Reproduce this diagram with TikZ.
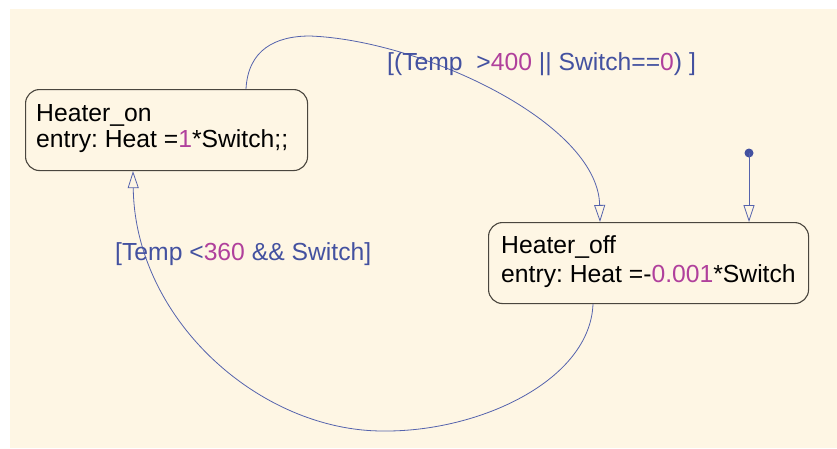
\documentclass[tikz,border=0pt]{standalone}
\usepackage{fontspec}
\setmainfont{Liberation Sans}
\usetikzlibrary{arrows.meta,calc}
\frenchspacing
\definecolor{paper}{HTML}{FEF6E4}
\definecolor{edgeblue}{HTML}{5563AD}
\definecolor{guardblue}{HTML}{4351A0}
\definecolor{numpink}{HTML}{B0409C}
\definecolor{boxline}{HTML}{4A463E}
\tikzset{
  statebox/.style={draw=boxline, line width=1.1pt, rounded corners=14pt,
    anchor=north west, inner sep=0pt},
  txt/.style={anchor=base west, inner sep=0pt, font=\fontsize{24.7pt}{27pt}\selectfont},
  guard/.style={txt, text=guardblue},
  trans/.style={draw=edgeblue, line width=0.8pt,
    -{Triangle[open, length=17pt, width=11pt, line width=0.8pt]}},
}
\newcommand{\num}[1]{\textcolor{numpink}{#1}}
\begin{document}
\begin{tikzpicture}[x=1pt, y=-1pt]
  \useasboundingbox (0,0) rectangle (837,448);
  \fill[paper] (10,9) rectangle (837,448);

  % states
  \node[statebox, minimum width=282pt, minimum height=81pt] (on) at (25,89) {};
  \node[txt] (onname) at (36,121) {Heater\_on};
  \node[txt] (onentry) at (36,147) {entry: Heat =\num{1}*Switch;;};

  \node[statebox, minimum width=320pt, minimum height=81pt] (off) at (488,222) {};
  \node[txt] (offname) at (501,253) {Heater\_off};
  \node[txt] (offentry) at (501,282) {entry: Heat =-\num{0.001}*Switch};

  % default transition
  \coordinate (dflt) at (749,153);
  \fill[guardblue] (dflt) circle (4.5pt);
  \draw[trans] (dflt) -- ($(off.north west)+(261,0)$);

  % on -> off
  \coordinate (onTop) at ($(on.north west)+(221,0)$);
  \coordinate (offTop) at ($(off.north west)+(112,0)$);
  \draw[trans] (onTop) .. controls (248,50) and (275,36) .. (310,36)
    .. controls (420,40) and (598,122) .. (offTop);

  % off -> on
  \coordinate (offBot) at ($(off.south west)+(105,0)$);
  \coordinate (onBot) at ($(on.south west)+(108,0)$);
  \draw[trans] (offBot) .. controls (590,380) and (480,432) .. (383,431)
    .. controls (260,431) and (135,320) .. (onBot);

  % guards
  \node[guard] (g1) at (387,70) {[(Temp\ \ >\num{400} || Switch==\num{0}) ]};
  \node[guard] (g2) at (115,260) {[Temp <\num{360} \&\& Switch]};
\end{tikzpicture}
\end{document}
